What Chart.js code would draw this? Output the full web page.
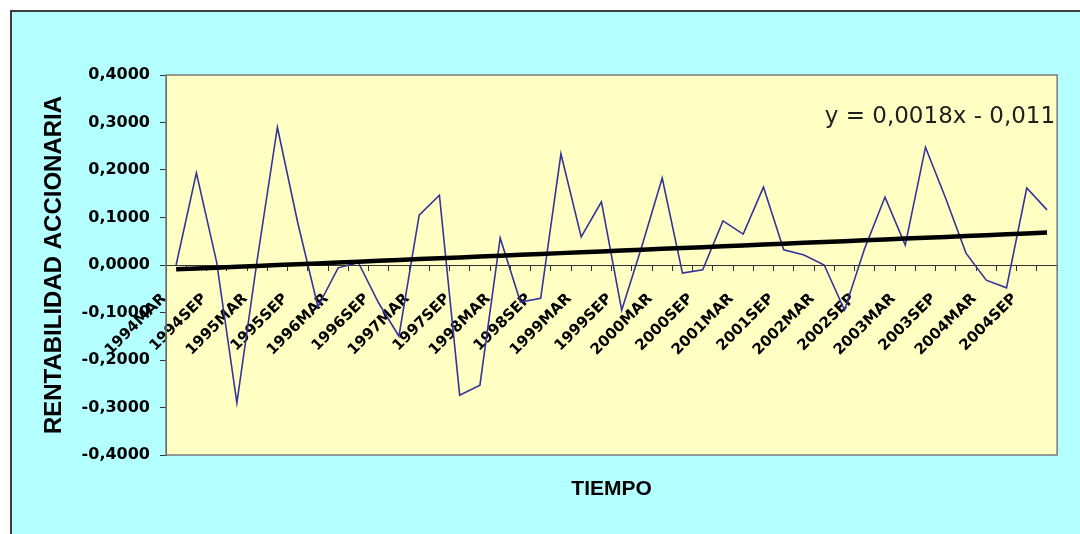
<!DOCTYPE html>
<html>
<head>
<meta charset="utf-8">
<script src="https://cdn.jsdelivr.net/npm/chart.js@4.4.0/dist/chart.umd.min.js"></script>
<style>
  html, body { margin: 0; padding: 0; background: #fff; overflow: hidden; }
  #frame { position: absolute; left: 10px; top: 10px; width: 1090px; height: 540px;
           background: #b4ffff; border: 2px solid #3c3c3c; box-sizing: border-box; }
  #wrap { position: absolute; left: 0; top: 0; width: 1080px; height: 534px; }
</style>
</head>
<body>
<div id="frame"></div>
<div id="wrap"><canvas id="chart" width="1080" height="534"></canvas></div>
<script>
// trimestres
const periods = [
  '1994MAR','1994JUN','1994SEP','1994DIC',
  '1995MAR','1995JUN','1995SEP','1995DIC',
  '1996MAR','1996JUN','1996SEP','1996DIC',
  '1997MAR','1997JUN','1997SEP','1997DIC',
  '1998MAR','1998JUN','1998SEP','1998DIC',
  '1999MAR','1999JUN','1999SEP','1999DIC',
  '2000MAR','2000JUN','2000SEP','2000DIC',
  '2001MAR','2001JUN','2001SEP','2001DIC',
  '2002MAR','2002JUN','2002SEP','2002DIC',
  '2003MAR','2003JUN','2003SEP','2003DIC',
  '2004MAR','2004JUN','2004SEP','2004DIC'
];

const rentabilidad = [
  0.000, 0.194, 0.006, -0.290, 0.010, 0.290, 0.090, -0.088,
  -0.006, 0.005, -0.080, -0.150, 0.105, 0.147, -0.274, -0.253,
  0.057, -0.078, -0.070, 0.234, 0.059, 0.133, -0.095, 0.040,
  0.183, -0.017, -0.010, 0.093, 0.065, 0.164, 0.032, 0.021,
  0.000, -0.095, 0.035, 0.143, 0.042, 0.248, 0.140, 0.025,
  -0.032, -0.048, 0.162, 0.116
];

const yTicks = [-0.4, -0.3, -0.2, -0.1, 0, 0.1, 0.2, 0.3, 0.4];

// linea de tendencia (y = 0,0018x - 0,011)
const trendSlope = 0.0018;
const trendIntercept = -0.011;
const trendLabel = 'y = 0,0018x - 0,011';

const tendencia = periods.map((p, i) => trendSlope * (i + 1) + trendIntercept);

const plotBg = {
  id: 'plotBg',
  beforeDraw(chart) {
    const a = chart.chartArea;
    const ctx = chart.ctx;
    ctx.save();
    ctx.fillStyle = '#ffffc4';
    ctx.fillRect(a.left, a.top, a.right - a.left, a.bottom - a.top);
    ctx.restore();
  },
  afterDraw(chart) {
    const a = chart.chartArea;
    const ctx = chart.ctx;
    ctx.save();
    ctx.strokeStyle = '#7a7a7a';
    ctx.lineWidth = 1.5;
    ctx.strokeRect(a.left, a.top, a.right - a.left, a.bottom - a.top);
    ctx.fillStyle = '#1e1e1e';
    ctx.font = '23px "DejaVu Sans"';
    ctx.textAlign = 'right';
    ctx.textBaseline = 'alphabetic';
    ctx.fillText(trendLabel, a.right - 2, 123);
    ctx.restore();
  }
};

new Chart(document.getElementById('chart'), {
  type: 'line',
  data: {
    labels: periods,
    datasets: [
      {
        label: 'Tendencia',
        data: tendencia,
        borderColor: '#000000',
        borderWidth: 4.5,
        pointRadius: 0,
        tension: 0
      },
      {
        label: 'Rentabilidad',
        data: rentabilidad,
        borderColor: '#34349a',
        borderWidth: 1.6,
        pointRadius: 0,
        tension: 0
      }
    ]
  },
  options: {
    responsive: false,
    animation: false,
    layout: { padding: { left: 30, top: 75, right: 17, bottom: 29 } },
    plugins: { legend: { display: false }, tooltip: { enabled: false } },
    scales: {
      x: {
        type: 'category',
        position: { y: 0 },
        offset: true,
        afterFit(s) { s.height = 0; },
        grid: { offset: true, drawOnChartArea: false, drawTicks: true, tickLength: 5, color: '#333' },
        border: { display: true, color: '#333', width: 1 },
        ticks: {
          autoSkip: false,
          minRotation: 45,
          maxRotation: 45,
          padding: 20,
          labelOffset: -12,
          color: '#000',
          font: { family: 'DejaVu Sans', size: 15, weight: 'bold' },
          callback: function(val, i) {
            return i % 2 === 0 ? this.getLabelForValue(val) : '';
          }
        }
      },
      xb: {
        type: 'category',
        position: 'bottom',
        afterFit(s) { s.height = 50; },
        grid: { display: false },
        border: { display: false },
        ticks: { display: false },
        title: {
          display: true,
          text: 'TIEMPO',
          color: '#000',
          padding: { top: 0, bottom: 3 },
          font: { family: 'Liberation Sans', size: 21, weight: 'bold' }
        }
      },
      y: {
        min: -0.4,
        max: 0.4,
        afterFit(s) { s.width = 136; },
        afterBuildTicks(s) { s.ticks = yTicks.map(v => ({ value: v })); },
        grid: { drawOnChartArea: false, drawTicks: true, tickLength: 6, color: '#333' },
        border: { display: true, color: '#333', width: 1 },
        ticks: {
          padding: 10,
          color: '#000',
          font: { family: 'DejaVu Sans', size: 16, weight: 'bold' },
          callback: v => v.toFixed(4).replace('.', ',')
        },
        title: {
          display: true,
          text: 'RENTABILIDAD ACCIONARIA',
          color: '#000',
          padding: { top: 10, bottom: 0 },
          font: { family: 'Liberation Sans', size: 24, weight: 'bold' }
        }
      }
    }
  },
  plugins: [plotBg]
});
</script>
</body>
</html>
